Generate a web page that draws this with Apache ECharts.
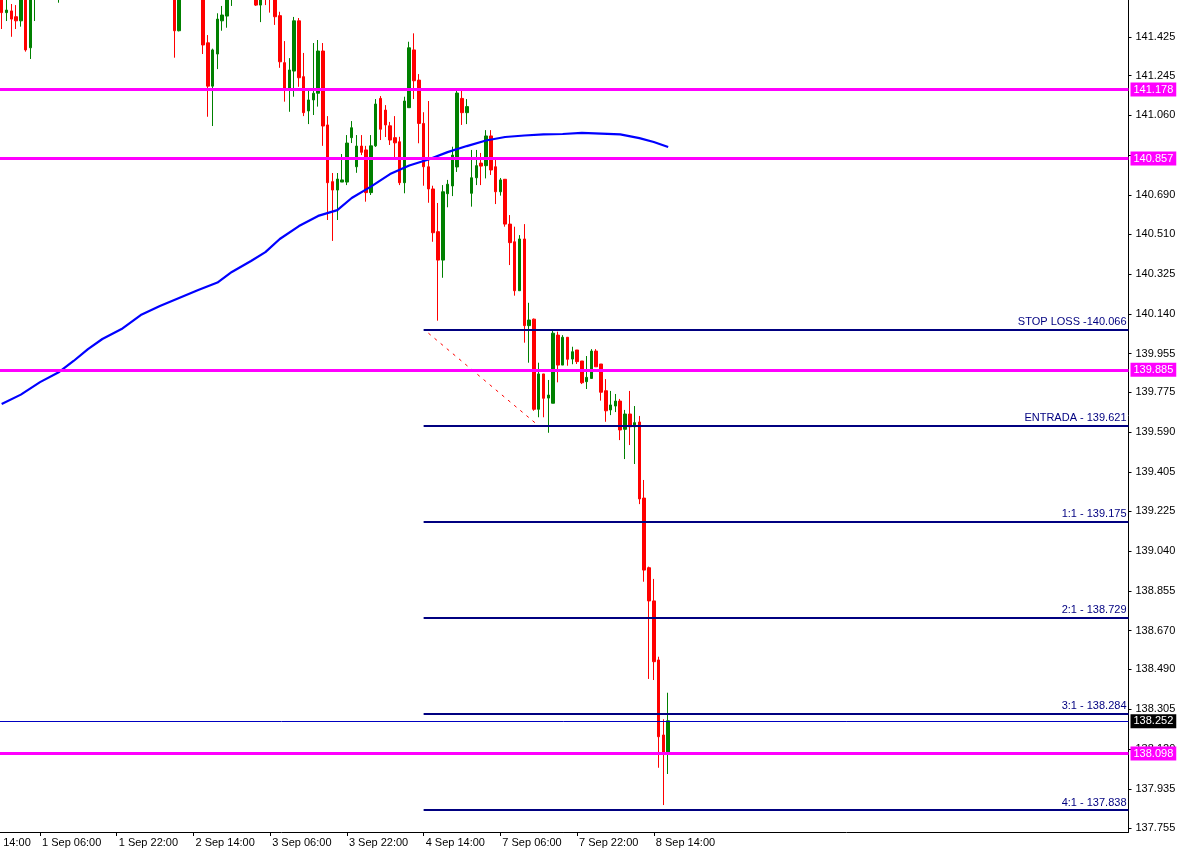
<!DOCTYPE html>
<html><head><meta charset="utf-8">
<script src="https://cdn.jsdelivr.net/npm/echarts@6/dist/echarts.min.js"></script>
<style>html,body{margin:0;padding:0;background:#fff;overflow:hidden}#c{width:1184px;height:854px}</style>
</head><body><div id="c"></div>
<script>
// time-axis tick labels, one every 16 H1 bars
const tickLabels = ['31 Aug 14:00','1 Sep 06:00','1 Sep 22:00','2 Sep 14:00','3 Sep 06:00','3 Sep 22:00','4 Sep 14:00','7 Sep 06:00','7 Sep 22:00','8 Sep 14:00'];
// price-axis ticks and the labels that stay visible (140.875 sits under the 140.857 tag)
const yTicks = [141.610,141.425,141.245,141.060,140.875,140.690,140.510,140.325,140.140,139.955,139.775,139.590,139.405,139.225,139.040,138.855,138.670,138.490,138.305,138.120,137.935,137.755];
const yLabels = [141.610,141.425,141.245,141.060,140.690,140.510,140.325,140.140,139.955,139.775,139.590,139.405,139.225,139.040,138.855,138.670,138.490,138.305,138.120,137.935,137.755];
// H1 candles from 31 Aug 22:00: [open, close, low, high]
const candles = [
[141.62,141.537,141.461,141.65],[141.537,141.549,141.498,141.61],[141.545,141.507,141.425,141.577],[141.518,141.499,141.461,141.572],
[141.499,141.63,141.472,141.66],[141.64,141.364,141.356,141.67],[141.374,141.64,141.322,141.68],[141.65,141.72,141.498,141.74],
[141.72,141.78,141.68,141.82],[141.78,141.74,141.70,141.83],[141.74,141.80,141.71,141.85],[141.80,141.69,141.64,141.84],
[141.69,141.75,141.583,141.78],[141.75,141.82,141.72,141.86],[141.82,141.88,141.79,141.92],[141.88,141.85,141.81,141.93],
[141.85,141.93,141.83,141.97],[141.93,141.98,141.90,142.02],[141.98,141.92,141.88,142.01],[141.92,141.96,141.89,142.00],
[141.96,141.90,141.86,141.99],[141.90,141.86,141.82,141.93],[141.86,141.91,141.83,141.94],[141.91,141.87,141.84,141.95],
[141.87,141.92,141.85,141.96],[141.92,141.96,141.89,142.00],[141.96,141.91,141.87,141.99],[141.91,141.85,141.82,141.94],
[141.85,141.88,141.81,141.91],[141.88,141.82,141.78,141.90],[141.82,141.86,141.79,141.89],[141.86,141.80,141.76,141.88],
[141.80,141.76,141.72,141.83],[141.76,141.79,141.71,141.82],[141.79,141.73,141.69,141.81],[141.73,141.66,141.63,141.76],
[141.66,141.453,141.328,141.69],[141.453,141.64,141.45,141.67],[141.64,141.70,141.61,141.74],[141.70,141.75,141.67,141.78],
[141.75,141.71,141.66,141.79],[141.71,141.68,141.63,141.74],[141.68,141.387,141.345,141.70],[141.397,141.196,141.054,141.433],
[141.196,141.364,141.011,141.37],[141.345,141.507,141.275,141.534],[141.499,141.526,141.453,141.568],[141.521,141.63,141.467,141.66],
[141.63,141.69,141.568,141.71],[141.69,141.74,141.66,141.77],[141.74,141.71,141.67,141.78],[141.71,141.75,141.68,141.79],
[141.75,141.69,141.65,141.77],[141.69,141.572,141.568,141.71],[141.572,141.64,141.493,141.67],[141.66,141.62,141.572,141.69],
[141.62,141.60,141.537,141.66],[141.61,141.518,141.48,141.65],[141.523,141.309,141.281,141.541],[141.305,141.183,141.124,141.405],
[141.183,141.271,141.077,141.326],[141.266,141.499,141.147,141.517],[141.499,141.235,141.193,141.512],[141.240,141.073,141.057,141.350],
[141.081,141.132,141.020,141.187],[141.132,141.163,141.062,141.396],[141.163,141.359,141.101,141.410],[141.359,141.011,140.919,141.396],
[141.016,140.748,140.575,141.057],[140.753,140.714,140.478,140.793],[140.714,140.765,140.575,140.793],[140.751,140.761,140.751,140.881],
[140.751,140.932,140.737,140.969],[140.957,141.003,140.932,141.034],[140.822,140.918,140.794,140.969],[140.918,140.889,140.876,140.969],
[140.900,140.702,140.660,140.919],[140.702,140.919,140.691,140.969],[140.919,141.113,140.914,141.136],[141.139,140.996,140.946,141.150],
[141.085,141.016,140.960,141.108],[141.012,140.946,140.923,141.030],[140.957,140.933,140.861,141.057],[140.938,140.748,140.737,140.961],
[140.748,141.127,140.699,141.147],[141.096,141.374,141.095,141.402],[141.364,141.221,141.136,141.441],[141.224,141.023,140.931,141.252],
[141.023,140.822,140.734,141.075],[140.822,140.719,140.655,141.127],[140.719,140.516,140.474,140.734],[140.521,140.389,140.108,140.654],
[140.389,140.706,140.307,140.737],[140.697,140.741,140.634,140.761],[140.733,140.876,140.686,140.915],[140.821,141.164,140.798,141.187],
[141.139,141.073,141.016,141.186],[141.073,141.101,141.020,141.136],[140.699,140.771,140.637,140.900],[140.771,140.827,140.737,140.900],
[140.839,140.825,140.737,140.886],[140.827,140.965,140.768,140.992],[140.965,140.807,140.784,140.992],[140.822,140.706,140.649,140.863],
[140.706,140.761,140.688,140.770],[140.764,140.556,140.544,140.765],[140.556,140.470,140.366,140.598],[140.474,140.247,140.224,140.544],
[140.247,140.487,140.247,140.505],[140.487,140.085,140.006,140.556],[140.085,140.111,139.913,140.191],[140.115,139.697,139.690,140.118],
[139.697,139.861,139.660,139.913],[139.861,139.748,139.660,139.861],[139.749,139.763,139.588,139.833],[139.725,140.050,139.725,140.065],
[140.041,139.902,139.822,140.057],[139.902,140.031,139.902,140.041],[140.031,139.929,139.899,140.032],[139.930,139.964,139.906,139.987],
[139.972,139.918,139.907,139.972],[139.921,139.820,139.814,139.921],[139.825,139.845,139.791,139.944],[139.840,139.967,139.840,139.976],
[139.967,139.894,139.894,139.976],[139.907,139.776,139.737,139.907],[139.783,139.690,139.639,139.837],[139.694,139.717,139.670,139.782],
[139.712,139.735,139.684,139.768],[139.735,139.601,139.554,139.745],[139.604,139.675,139.466,139.694],[139.675,139.616,139.531,139.782],
[139.616,139.635,139.443,139.712],[139.638,139.281,139.257,139.666],[139.285,138.951,138.897,139.369],[138.962,138.808,138.446,138.967],
[138.808,138.526,138.441,138.910],[138.534,138.178,138.034,138.549],[138.186,138.104,137.861,138.259],[138.104,138.252,138.005,138.382]
];
// moving average readings: [bar index, value]
const maPoints = [[0,139.721],[4,139.765],[8,139.823],[12,139.870],[15,139.921],[18,139.976],[21,140.023],[25,140.069],[29,140.134],[33,140.176],[37,140.213],[41,140.250],[45,140.285],[48,140.334],[52,140.385],[55,140.426],[58,140.487],[62,140.547],[66,140.594],[70,140.621],[73,140.677],[77,140.730],[81,140.788],[85,140.828],[89,140.856],[93,140.890],[97,140.918],[101,140.944],[105,140.960],[109,140.967],[113,140.972],[117,140.974],[121,140.979],[125,140.976],[129,140.972],[133,140.955],[136,140.937],[139,140.914]];
const pinkLevels = [141.178, 140.857, 139.885, 138.098];
const tradeLabels = ['STOP LOSS -140.066','ENTRADA - 139.621','1:1 - 139.175','2:1 - 138.729','3:1 - 138.284','4:1 - 137.838'];
const tradeValues = [140.066, 139.621, 139.175, 138.729, 138.284, 137.838];
const bidPrice = 138.252;
const trendLine = [[89,140.05],[112,139.62]];
const levelStartBar = 88;   // 4 Sep 14:00
const LEAD = 8;             // bars from 31 Aug 14:00 to first candle
const TOTAL = 244;

const FONT = 'Liberation Sans';
const cats = [];
for (let k = 0; k < TOTAL; k++) {
  cats.push(k % 16 === 0 && tickLabels[k/16] ? tickLabels[k/16] : 'b' + k);
}
const showTick = (idx) => idx % 16 === 0 && idx/16 < tickLabels.length;
const candleData = [];
for (let k = 0; k < LEAD; k++) candleData.push('-');
candles.forEach(c => candleData.push(c));

const chart = echarts.init(document.getElementById('c'), null, {renderer: 'canvas'});
chart.setOption({
  animation: false,
  backgroundColor: '#ffffff',
  grid: {left: -36.7, right: 55.5, top: -10, bottom: 22, outerBoundsMode: 'none', containLabel: false},
  xAxis: {
    type: 'category', data: cats, boundaryGap: false,
    axisLine: {lineStyle: {color: '#000', width: 1}},
    axisTick: {show: true, length: 4, interval: showTick, lineStyle: {color: '#000'}},
    axisLabel: {interval: showTick, align: 'left', margin: 5, padding: [0,0,0,2], color: '#000', fontSize: 11, fontFamily: FONT},
    splitLine: {show: false}
  },
  yAxis: {
    type: 'value', position: 'right', min: 137.736, max: 141.642, scale: true,
    axisLine: {show: true, lineStyle: {color: '#000', width: 1}},
    axisTick: {show: true, length: 3, customValues: yTicks, lineStyle: {color: '#000'}},
    axisLabel: {customValues: yLabels, formatter: v => v.toFixed(3), margin: 7, color: '#000', fontSize: 11, fontFamily: FONT},
    splitLine: {show: false}
  },
  series: [
    {
      type: 'candlestick', data: candleData, barWidth: 3, z: 2, clip: true,
      itemStyle: {color: '#008000', color0: '#ff0000', borderColor: '#008000', borderColor0: '#ff0000', borderWidth: 1}
    },
    {
      type: 'line', data: maPoints.map(p => [p[0] + LEAD, p[1]]), showSymbol: false, connectNulls: true, z: 3,
      lineStyle: {color: '#0000ff', width: 2.2}
    },
    {
      type: 'line', data: [], z: 4,
      markLine: {
        silent: true, symbol: 'none', animation: false,
        lineStyle: {color: '#ff0000', width: 1, type: [3, 5]},
        label: {show: false},
        data: [[{coord: [trendLine[0][0] + LEAD, trendLine[0][1]]}, {coord: [trendLine[1][0] + LEAD, trendLine[1][1]]}]]
      }
    },
    {
      type: 'line', data: [], z: 5,
      markLine: {
        silent: true, symbol: 'none', animation: false,
        lineStyle: {color: '#000080', width: 2, type: 'solid'},
        label: {show: true, position: 'insideEndTop', distance: [2, 2], color: '#000080', fontSize: 11, fontFamily: FONT},
        data: tradeValues.map((v, k) => [
          {coord: [levelStartBar + LEAD, v], label: {formatter: tradeLabels[k]}},
          {coord: [TOTAL - 1, v]}
        ])
      }
    },
    {
      type: 'line', data: [], z: 6,
      markLine: {
        silent: true, symbol: 'none', animation: false,
        lineStyle: {color: '#0000c0', width: 1, type: 'solid'},
        label: {show: true, position: 'end', distance: 2, formatter: () => bidPrice.toFixed(3), backgroundColor: '#000', color: '#fff', padding: [2, 3, 1, 3], fontSize: 11, fontFamily: FONT},
        data: [{yAxis: bidPrice}]
      }
    },
    {
      type: 'line', data: [], z: 7,
      markLine: {
        silent: true, symbol: 'none', animation: false,
        lineStyle: {color: '#ff00ff', width: 3, type: 'solid'},
        label: {show: true, position: 'end', distance: 2, backgroundColor: '#ff00ff', color: '#fff', padding: [2, 3, 1, 3], fontSize: 11, fontFamily: FONT},
        data: pinkLevels.map(v => ({yAxis: v, label: {formatter: v.toFixed(3)}}))
      }
    }
  ]
});
</script></body></html>
